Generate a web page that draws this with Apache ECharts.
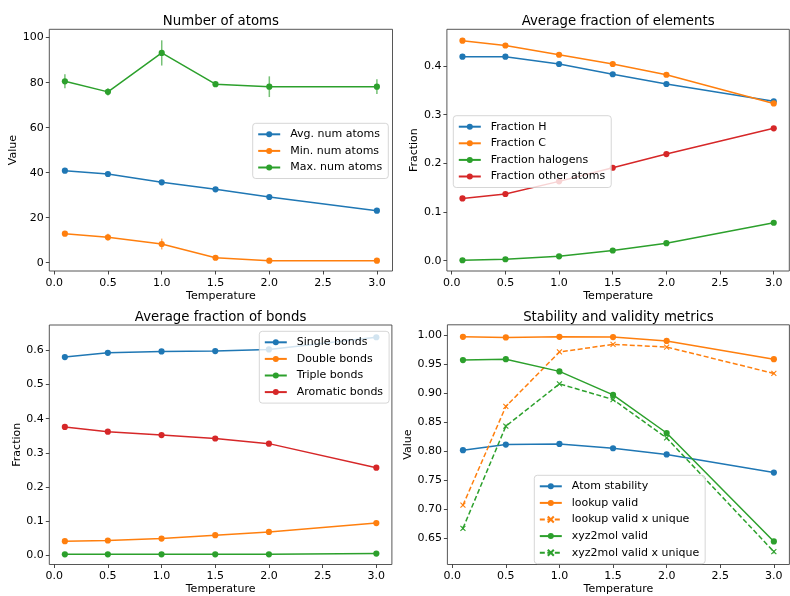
<!DOCTYPE html>
<html>
<head>
<meta charset="utf-8">
<script src="https://cdn.jsdelivr.net/npm/echarts@6/dist/echarts.min.js"></script>
<style>html,body{margin:0;padding:0;background:#fff;}#c{width:790px;height:596px;}</style>
</head>
<body>
<div id="c"></div>
<script>
// ---- data ----
const temps = [0.1, 0.5, 1.0, 1.5, 2.0, 3.0];
const xTicks = [0.0, 0.5, 1.0, 1.5, 2.0, 2.5, 3.0];

// Number of atoms
const avgAtoms = [40.9, 39.4, 35.7, 32.6, 29.2, 23.1];
const avgAtomsErr = [0.6, 0.6, 0.5, 0.5, 0.5, 0.4];
const minAtoms = [12.9, 11.3, 8.3, 2.2, 0.9, 0.9];
const minAtomsErr = [0.8, 1.6, 2.4, 0.8, 0.3, 0.3];
const maxAtoms = [80.6, 75.9, 93.2, 79.3, 78.2, 78.2];
const maxAtomsErr = [3.1, 1.6, 5.6, 0.6, 4.6, 3.3];
const atomTicks = [0, 20, 40, 60, 80, 100];

// Average fraction of elements
const fracH = [0.419, 0.419, 0.404, 0.383, 0.363, 0.3275];
const fracC = [0.452, 0.442, 0.423, 0.404, 0.382, 0.323];
const fracHal = [0.001, 0.003, 0.009, 0.021, 0.036, 0.078];
const fracOther = [0.128, 0.137, 0.163, 0.191, 0.219, 0.272];
const fracSmallErr = [0.001, 0.001, 0.001, 0.001, 0.001, 0.001];
const elemTicks = [0.0, 0.1, 0.2, 0.3, 0.4];

// Average fraction of bonds
const bondSingle = [0.5805, 0.593, 0.597, 0.598, 0.603, 0.6386];
const bondDouble = [0.0415, 0.0434, 0.049, 0.059, 0.0685, 0.0945];
const bondTriple = [0.003, 0.003, 0.003, 0.003, 0.003, 0.005];
const bondArom = [0.376, 0.362, 0.352, 0.342, 0.327, 0.2566];
const bondErr = [0.001, 0.001, 0.001, 0.001, 0.001, 0.001];
const bondTicks = [0.0, 0.1, 0.2, 0.3, 0.4, 0.5, 0.6];

// Stability and validity metrics
const atomStab = [0.8017, 0.8114, 0.8125, 0.805, 0.7943, 0.763];
const lookupValid = [0.997, 0.996, 0.997, 0.9966, 0.990, 0.9585];
const lookupUnique = [0.7068, 0.877, 0.971, 0.984, 0.9795, 0.934];
const xyzValid = [0.957, 0.9585, 0.9375, 0.897, 0.8313, 0.6443];
const xyzUnique = [0.667, 0.843, 0.916, 0.889, 0.8227, 0.6267];
const stabErr = [0.001, 0.001, 0.001, 0.001, 0.001, 0.001];
const lookupUniqueErr = [0.002, 0.002, 0.002, 0.002, 0.002, 0.002];
const xyzUniqueErr = [0.003, 0.003, 0.002, 0.002, 0.002, 0.003];
const stabTicks = [0.65, 0.70, 0.75, 0.80, 0.85, 0.90, 0.95, 1.00];

// ---- style ----
const C = {blue:'#1f77b4', orange:'#ff7f0e', green:'#2ca02c', red:'#d62728'};
const FONT = 'DejaVu Sans';
const TXT = '#000';

const grids = [
  {left: 49.3, top: 29.3, width: 343.2, height: 241.7},
  {left: 446.9, top: 29.3, width: 342.4, height: 241.7},
  {left: 49.3, top: 325.0, width: 342.6, height: 242.3},
  {left: 447.4, top: 324.8, width: 342.0, height: 242.5}
];
const yRanges = [[-3.69, 103.7], [-0.0211, 0.4753], [-0.0269, 0.6744], [0.6046, 1.0178]];
const yTickSets = [atomTicks, elemTicks, bondTicks, stabTicks];
const yFmt = [v => String(Math.round(v)), v => v.toFixed(1), v => v.toFixed(1), v => v.toFixed(2)];
const yNames = ['Value', 'Fraction', 'Fraction', 'Value'];
const yGaps = [30, 24, 25, 33];
const titles = ['Number of atoms', 'Average fraction of elements', 'Average fraction of bonds', 'Stability and validity metrics'];

const xAxes = grids.map((g, i) => ({
  type: 'value', gridIndex: i, min: -0.045, max: 3.145, position: 'bottom',
  name: 'Temperature', nameLocation: 'middle', nameGap: 19.5,
  nameTextStyle: {fontFamily: FONT, fontSize: 11, color: TXT},
  axisLine: {show: false, onZero: false},
  axisTick: {show: true, length: 3.5, customValues: xTicks, lineStyle: {color: '#333', width: 0.9}},
  axisLabel: {show: true, customValues: xTicks, formatter: v => v.toFixed(1), margin: 6.5,
    fontFamily: FONT, fontSize: 11, color: TXT},
  splitLine: {show: false}
}));
const yAxes = grids.map((g, i) => ({
  type: 'value', gridIndex: i, min: yRanges[i][0], max: yRanges[i][1], position: 'left',
  name: yNames[i], nameLocation: 'middle', nameGap: yGaps[i],
  nameTextStyle: {fontFamily: FONT, fontSize: 11, color: TXT},
  axisLine: {show: false, onZero: false},
  axisTick: {show: true, length: 3.5, customValues: yTickSets[i], lineStyle: {color: '#333', width: 0.9}},
  axisLabel: {show: true, customValues: yTickSets[i], formatter: yFmt[i], margin: 5.5,
    fontFamily: FONT, fontSize: 11, color: TXT},
  splitLine: {show: false}
}));

const series = [];
function pairs(vals) { return temps.map((t, k) => [t, vals[k]]); }
function addLine(gi, name, vals, errs, color, dashed) {
  const s = {
    type: 'line', name: name, xAxisIndex: gi, yAxisIndex: gi,
    data: pairs(vals), z: 3, silent: true, animation: false,
    lineStyle: {color: color, width: 1.5, type: dashed ? [5, 2.5] : 'solid'},
    emphasis: {disabled: true}
  };
  if (dashed) {
    s.symbol = 'path://M0 0L10 10M10 0L0 10';
    s.symbolSize = 5;
    s.itemStyle = {color: 'rgba(0,0,0,0)', borderColor: color, borderWidth: 1.1};
  } else {
    s.symbol = 'circle';
    s.symbolSize = 6.2;
    s.itemStyle = {color: color, borderWidth: 0};
  }
  series.push(s);
  series.push({
    type: 'custom', name: name + ' err', xAxisIndex: gi, yAxisIndex: gi, z: 2,
    silent: true, animation: false,
    data: temps.map((t, k) => [t, vals[k], errs[k]]),
    renderItem: (params, api) => {
      const x = api.value(0), y = api.value(1), e = api.value(2);
      const p1 = api.coord([x, y - e]);
      const p2 = api.coord([x, y + e]);
      return {type: 'line', shape: {x1: p1[0], y1: p1[1], x2: p2[0], y2: p2[1]},
        style: {stroke: color, lineWidth: 1.5, opacity: 0.65}};
    }
  });
}

addLine(0, 'Avg. num atoms', avgAtoms, avgAtomsErr, C.blue);
addLine(0, 'Min. num atoms', minAtoms, minAtomsErr, C.orange);
addLine(0, 'Max. num atoms', maxAtoms, maxAtomsErr, C.green);

addLine(1, 'Fraction H', fracH, fracSmallErr, C.blue);
addLine(1, 'Fraction C', fracC, fracSmallErr, C.orange);
addLine(1, 'Fraction halogens', fracHal, fracSmallErr, C.green);
addLine(1, 'Fraction other atoms', fracOther, fracSmallErr, C.red);

addLine(2, 'Single bonds', bondSingle, bondErr, C.blue);
addLine(2, 'Double bonds', bondDouble, bondErr, C.orange);
addLine(2, 'Triple bonds', bondTriple, bondErr, C.green);
addLine(2, 'Aromatic bonds', bondArom, bondErr, C.red);

addLine(3, 'Atom stability', atomStab, stabErr, C.blue);
addLine(3, 'lookup valid', lookupValid, stabErr, C.orange);
addLine(3, 'lookup valid x unique', lookupUnique, lookupUniqueErr, C.orange, true);
addLine(3, 'xyz2mol valid', xyzValid, stabErr, C.green);
addLine(3, 'xyz2mol valid x unique', xyzUnique, xyzUniqueErr, C.green, true);

const legendDefs = [
  {names: ['Avg. num atoms', 'Min. num atoms', 'Max. num atoms'], left: 252.7, top: 123.3},
  {names: ['Fraction H', 'Fraction C', 'Fraction halogens', 'Fraction other atoms'], left: 453.3, top: 115.7},
  {names: ['Single bonds', 'Double bonds', 'Triple bonds', 'Aromatic bonds'], left: 259.3, top: 331.3},
  {names: ['Atom stability', 'lookup valid', 'lookup valid x unique', 'xyz2mol valid', 'xyz2mol valid x unique'], left: 534.3, top: 475.3}
];
const legends = legendDefs.map(d => ({
  data: d.names, left: d.left, top: d.top, orient: 'vertical',
  itemWidth: 22, itemHeight: 7.5, itemGap: 3.6,
  padding: [4.5, 6, 4.5, 4.5],
  backgroundColor: 'rgba(255,255,255,0.8)', borderColor: 'rgba(204,204,204,0.8)',
  borderWidth: 1, borderRadius: 3,
  selectedMode: false,
  textStyle: {fontFamily: FONT, fontSize: 11, color: TXT, padding: [0, 0, 0, 5], lineHeight: 13}
}));

const titleDefs = titles.map((t, i) => ({
  text: t, left: grids[i].left + grids[i].width / 2, top: i < 2 ? 15.5 : 311,
  textAlign: 'center', padding: 0,
  textStyle: {fontFamily: FONT, fontSize: 13.3, fontWeight: 'normal', color: TXT}
}));

const chart = echarts.init(document.getElementById('c'), null, {renderer: 'canvas'});
chart.setOption({
  animation: false,
  backgroundColor: '#fff',
  title: titleDefs,
  grid: grids.map(g => Object.assign({show: true, borderColor: '#444', borderWidth: 0.9,
    backgroundColor: 'rgba(0,0,0,0)', containLabel: false}, g)),
  xAxis: xAxes,
  yAxis: yAxes,
  legend: legends,
  series: series
});
</script>
</body>
</html>
